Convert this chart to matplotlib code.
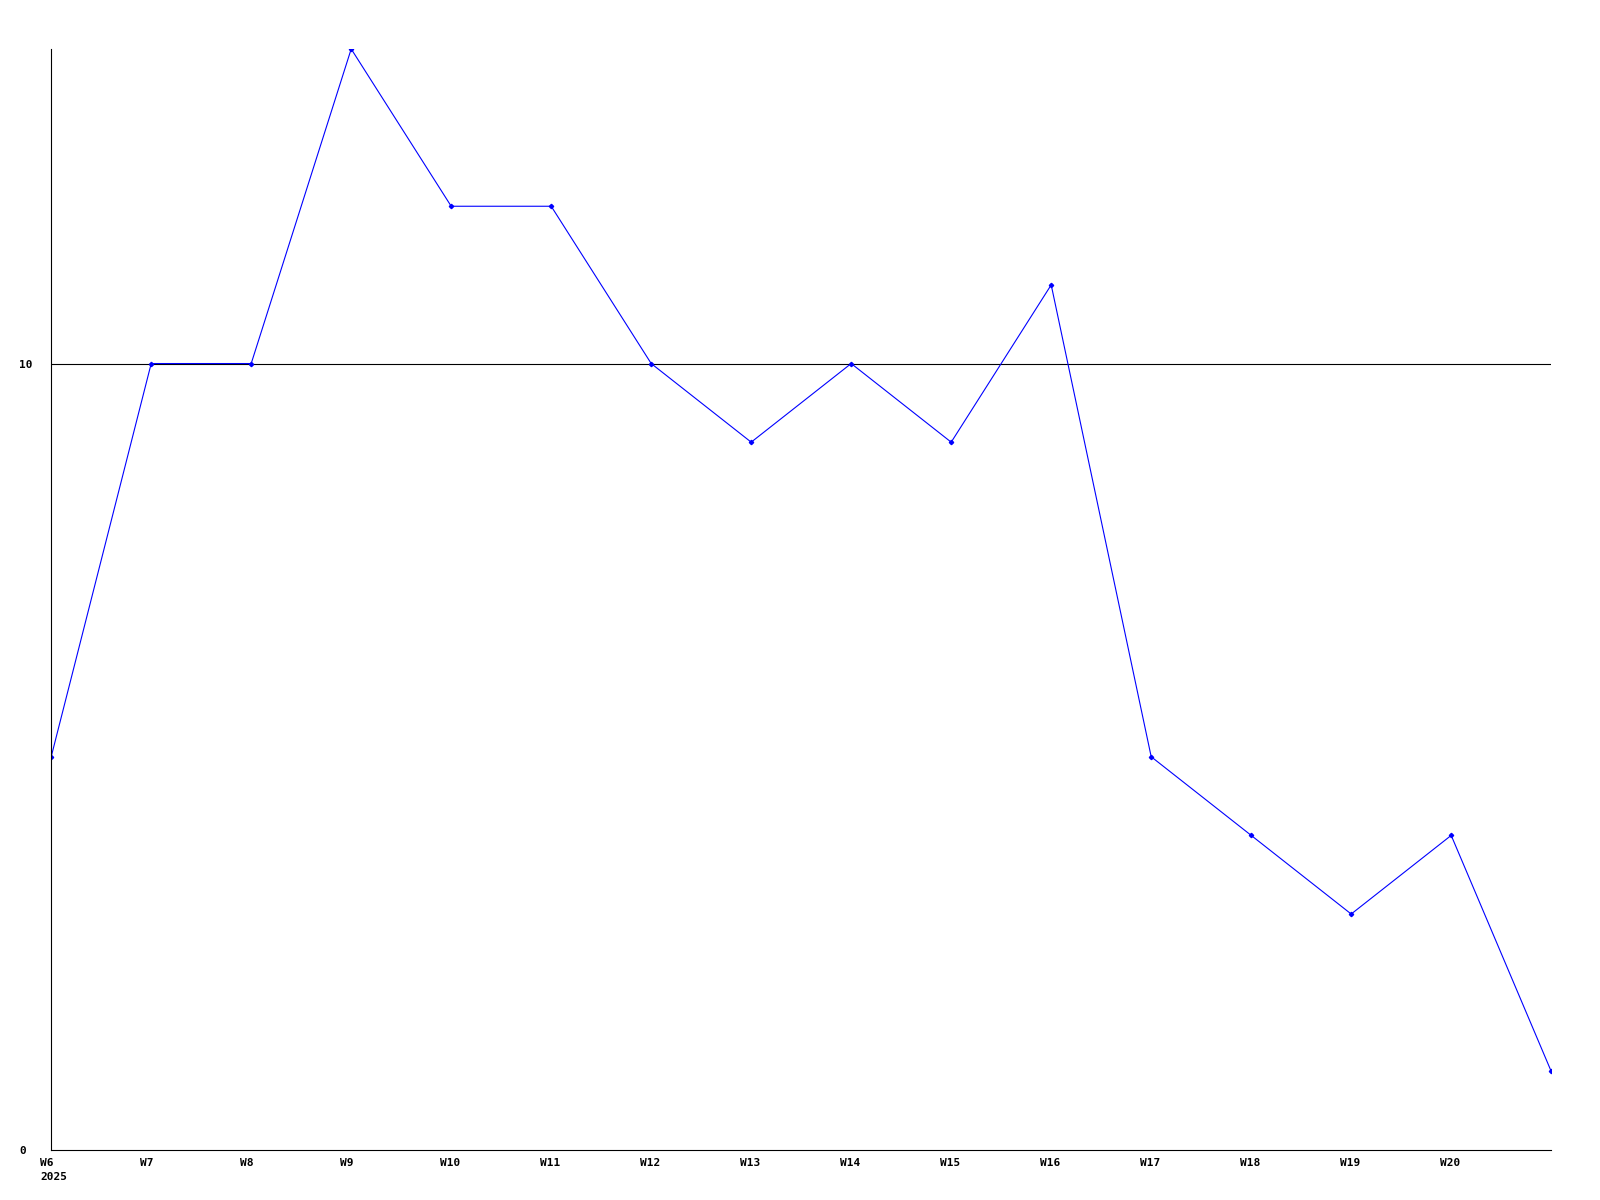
import matplotlib
matplotlib.use('Agg')
import matplotlib.pyplot as plt
import matplotlib.transforms as mtransforms

weeks = ['W6', 'W7', 'W8', 'W9', 'W10', 'W11', 'W12', 'W13', 'W14', 'W15',
         'W16', 'W17', 'W18', 'W19', 'W20', 'W21']
values = [5, 10, 10, 14, 12, 12, 10, 9, 10, 9, 11, 5, 4, 3, 4, 1]
tick_labels = ['W6\n2025'] + weeks[1:15]
y_ticks = [0, 10]

plt.rcParams['font.family'] = 'DejaVu Sans Mono'

fig = plt.figure(figsize=(16, 12), dpi=100)
ax = fig.add_axes([0.032, 0.0417, 0.9375, 0.9175])

x = list(range(len(values)))
ax.plot(x, values, color='#0000ff', linewidth=0.8, marker='D', markersize=2.2)

ax.set_xlim(0, len(values) - 1)
ax.set_ylim(0, 14)
ax.set_xticks(x[:15])
ax.set_xticklabels(tick_labels, fontsize=8, fontweight='bold', linespacing=1.5,
                   ha='left', va='top')
ax.set_yticks(y_ticks)
ax.set_yticklabels([str(v) for v in y_ticks], fontsize=8, fontweight='bold', ha='left')
ax.tick_params(length=0)
ax.tick_params(axis='y', pad=23)
ax.tick_params(axis='x', pad=6)

# shift x labels a bit left of their tick
shift = mtransforms.ScaledTranslation(-11 / 100, 0, fig.dpi_scale_trans)
for lbl in ax.get_xticklabels():
    lbl.set_transform(lbl.get_transform() + shift)

ax.axhline(10, color='black', linewidth=0.8, zorder=1)

for s in ['top', 'right']:
    ax.spines[s].set_visible(False)
for s in ['left', 'bottom']:
    ax.spines[s].set_linewidth(0.8)

fig.savefig('out.png')
